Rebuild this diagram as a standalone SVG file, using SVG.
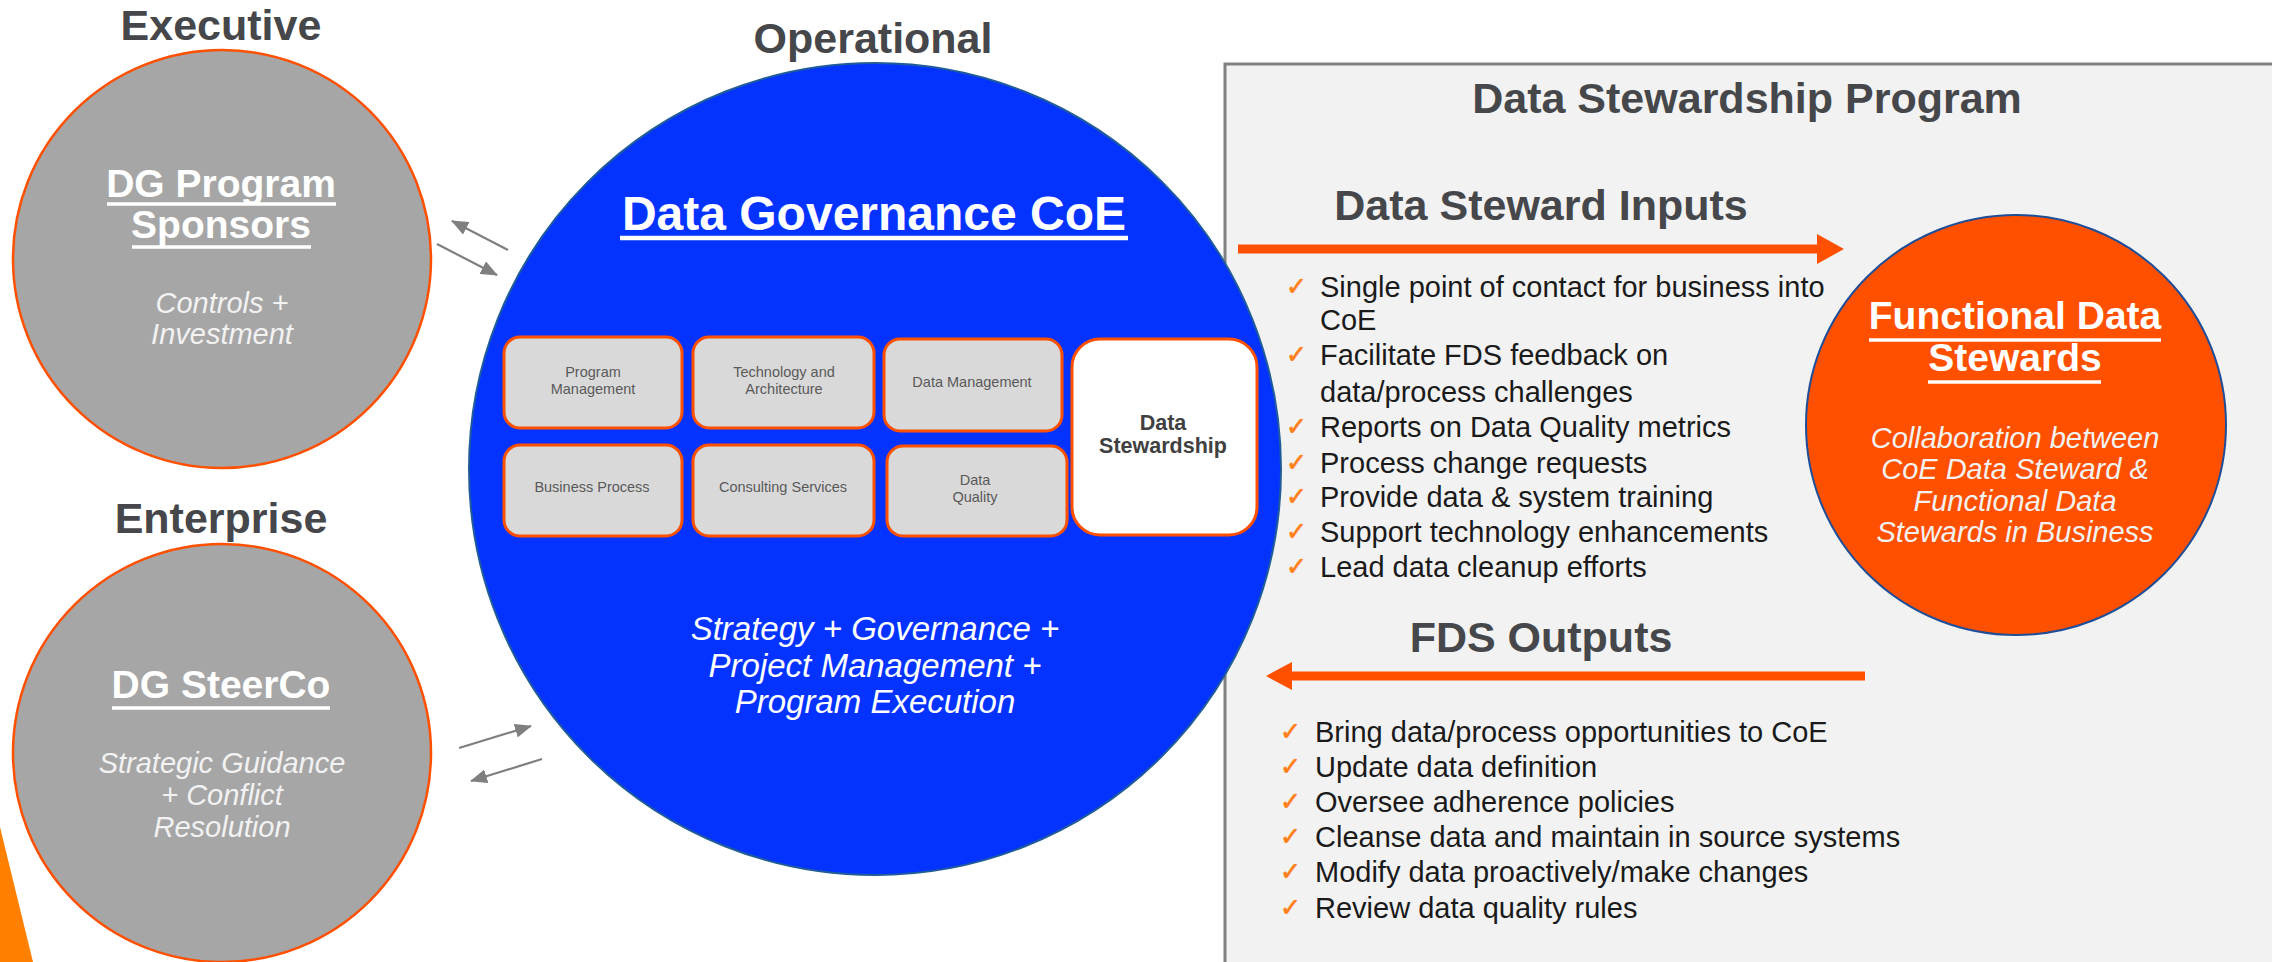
<svg xmlns="http://www.w3.org/2000/svg" width="2272" height="962" viewBox="0 0 2272 962">
<defs>
<style>
.t{font-family:"Liberation Sans",Arial,sans-serif}
.ttl{font-family:"Liberation Sans",Arial,sans-serif;font-weight:bold;font-size:43px;fill:#45474a;text-anchor:middle}
.gc{fill:#a6a6a6;stroke:#ff5000;stroke-width:2.5}
.hw{font-family:"Liberation Sans",Arial,sans-serif;font-weight:bold;font-size:39px;fill:#ffffff;text-anchor:middle}
.iw{font-family:"Liberation Sans",Arial,sans-serif;font-style:italic;font-size:29px;fill:#f2f2f2;text-anchor:middle}
.ul{stroke:#ffffff;stroke-width:3.5}
.box{fill:#d9d9d9;stroke:#ff5000;stroke-width:3}
.bt{font-family:"Liberation Sans",Arial,sans-serif;font-size:14.5px;fill:#595959;text-anchor:middle}
.bl{font-family:"Liberation Sans",Arial,sans-serif;font-size:29px;fill:#1a1a1a}
.ck{font-family:"DejaVu Sans",sans-serif;font-size:25px;fill:#ff7f1a;stroke:#ff7f1a;stroke-width:0.7}
.ga{stroke:#7f7f7f;stroke-width:2.2;fill:none;marker-end:url(#gh)}
.oa{stroke:#ff5000;stroke-width:9}
</style>
<marker id="gh" markerUnits="userSpaceOnUse" markerWidth="17" markerHeight="14" viewBox="0 0 17 14" refX="16" refY="7" orient="auto">
<path d="M0,0 L17,7 L0,14 z" fill="#7f7f7f"/>
</marker>
</defs>
<rect width="2272" height="962" fill="#ffffff"/>

<g id="panel">
<rect x="1225" y="64" width="1070" height="920" fill="#f2f2f2" stroke="#808080" stroke-width="3"/>
<text class="ttl" x="1747" y="113" font-size="42">Data Stewardship Program</text>
</g>

<g id="wedge">
<polygon points="0,827 33,962 0,962" fill="#ff7f00"/>
</g>

<g id="executive">
<text class="ttl" x="221" y="40">Executive</text>
<circle class="gc" cx="222" cy="259" r="209"/>
<text class="hw" x="221" y="197">DG Program</text>
<line class="ul" x1="107" y1="204" x2="336" y2="204"/>
<text class="hw" x="221" y="238">Sponsors</text>
<line class="ul" x1="132" y1="247" x2="311" y2="247"/>
<text class="iw" x="222" y="313">Controls +</text>
<text class="iw" x="222" y="344">Investment</text>
</g>

<g id="enterprise">
<text class="ttl" x="221" y="533">Enterprise</text>
<circle class="gc" cx="222" cy="753" r="209"/>
<text class="hw" x="221" y="698">DG SteerCo</text>
<line class="ul" x1="112" y1="708" x2="330" y2="708"/>
<text class="iw" x="222" y="773">Strategic Guidance</text>
<text class="iw" x="222" y="805">+ Conflict</text>
<text class="iw" x="222" y="837">Resolution</text>
</g>

<g id="coe">
<text class="ttl" x="873" y="53">Operational</text>
<circle cx="875" cy="469" r="406" fill="#0433ff" stroke="#1f5c99" stroke-width="2"/>
<text class="t" x="874" y="230" font-size="48" font-weight="bold" fill="#ffffff" text-anchor="middle">Data Governance CoE</text>
<line x1="620" y1="238" x2="1128" y2="238" stroke="#ffffff" stroke-width="4.5"/>
<text class="t" font-size="33" font-style="italic" fill="#ffffff" text-anchor="middle"><tspan x="875" y="640">Strategy + Governance +</tspan><tspan x="875" y="677">Project Management +</tspan><tspan x="875" y="713">Program Execution</tspan></text>
</g>

<g id="box-program-management">
<rect class="box" x="504" y="337" width="178" height="91" rx="16"/>
<text class="bt"><tspan x="593" y="377">Program</tspan><tspan x="593" y="394">Management</tspan></text>
</g>
<g id="box-technology">
<rect class="box" x="693" y="337" width="181" height="91" rx="16"/>
<text class="bt"><tspan x="784" y="377">Technology and</tspan><tspan x="784" y="394">Architecture</tspan></text>
</g>
<g id="box-data-management">
<rect class="box" x="884" y="339" width="178" height="92" rx="16"/>
<text class="bt" x="972" y="387">Data Management</text>
</g>
<g id="box-data-stewardship">
<rect x="1072" y="339" width="185" height="196" rx="28" fill="#ffffff" stroke="#ff5000" stroke-width="3"/>
<text class="t" font-size="21.5" font-weight="bold" fill="#404040" text-anchor="middle"><tspan x="1163" y="430">Data</tspan><tspan x="1163" y="453">Stewardship</tspan></text>
</g>
<g id="box-business-process">
<rect class="box" x="504" y="445" width="178" height="91" rx="16"/>
<text class="bt" x="592" y="492">Business Process</text>
</g>
<g id="box-consulting">
<rect class="box" x="693" y="445" width="181" height="91" rx="16"/>
<text class="bt" x="783" y="492">Consulting Services</text>
</g>
<g id="box-data-quality">
<rect class="box" x="887" y="446" width="180" height="90" rx="16"/>
<text class="bt"><tspan x="975" y="485">Data</tspan><tspan x="975" y="502">Quality</tspan></text>
</g>

<g id="fds">
<circle cx="2016" cy="425" r="210" fill="#ff5000" stroke="#1f4e99" stroke-width="2"/>
<text class="hw" x="2015" y="329">Functional Data</text>
<line class="ul" x1="1869" y1="340" x2="2161" y2="340"/>
<text class="hw" x="2015" y="371">Stewards</text>
<line class="ul" x1="1928" y1="382" x2="2101" y2="382"/>
<text class="iw"><tspan x="2015" y="448">Collaboration between</tspan><tspan x="2015" y="479">CoE Data Steward &amp;</tspan><tspan x="2015" y="511">Functional Data</tspan><tspan x="2015" y="542">Stewards in Business</tspan></text>
</g>

<g id="inputs">
<text class="ttl" x="1541" y="220">Data Steward Inputs</text>
<text class="ck" x="1286" y="295">✓</text>
<text class="bl" x="1320" y="297">Single point of contact for business into</text>
<text class="bl" x="1320" y="330">CoE</text>
<text class="ck" x="1286" y="363">✓</text>
<text class="bl" x="1320" y="365">Facilitate FDS feedback on</text>
<text class="bl" x="1320" y="402">data/process challenges</text>
<text class="ck" x="1286" y="435">✓</text>
<text class="bl" x="1320" y="437">Reports on Data Quality metrics</text>
<text class="ck" x="1286" y="471">✓</text>
<text class="bl" x="1320" y="473">Process change requests</text>
<text class="ck" x="1286" y="505">✓</text>
<text class="bl" x="1320" y="507">Provide data &amp; system training</text>
<text class="ck" x="1286" y="540">✓</text>
<text class="bl" x="1320" y="542">Support technology enhancements</text>
<text class="ck" x="1286" y="575">✓</text>
<text class="bl" x="1320" y="577">Lead data cleanup efforts</text>
</g>

<g id="outputs">
<text class="ttl" x="1541" y="652">FDS Outputs</text>
<text class="ck" x="1280" y="740">✓</text>
<text class="bl" x="1315" y="742">Bring data/process opportunities to CoE</text>
<text class="ck" x="1280" y="775">✓</text>
<text class="bl" x="1315" y="777">Update data definition</text>
<text class="ck" x="1280" y="810">✓</text>
<text class="bl" x="1315" y="812">Oversee adherence policies</text>
<text class="ck" x="1280" y="845">✓</text>
<text class="bl" x="1315" y="847">Cleanse data and maintain in source systems</text>
<text class="ck" x="1280" y="880">✓</text>
<text class="bl" x="1315" y="882">Modify data proactively/make changes</text>
<text class="ck" x="1280" y="916">✓</text>
<text class="bl" x="1315" y="918">Review data quality rules</text>
</g>

<g id="connectors">
<line class="ga" x1="508" y1="250" x2="452" y2="221"/>
<line class="ga" x1="437" y1="244" x2="497" y2="275"/>
<line class="ga" x1="459" y1="748" x2="531" y2="726"/>
<line class="ga" x1="542" y1="759" x2="471" y2="781"/>
<line class="oa" x1="1238" y1="249" x2="1819" y2="249"/>
<polygon points="1817,234 1844,249 1817,264" fill="#ff5000"/>
<line class="oa" x1="1865" y1="676" x2="1290" y2="676"/>
<polygon points="1292,662 1266,676 1292,690" fill="#ff5000"/>
</g>
</svg>
